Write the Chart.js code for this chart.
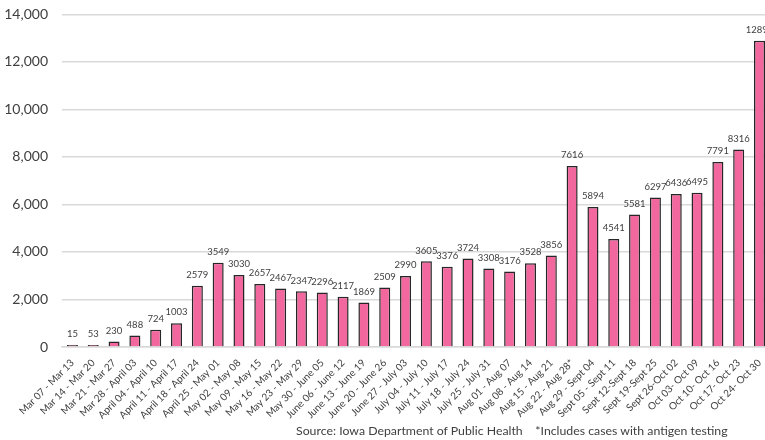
<!DOCTYPE html>
<html>
<head>
<meta charset="utf-8">
<script src="https://cdn.jsdelivr.net/npm/chart.js@4.4.1/dist/chart.umd.min.js"></script>
<style>
    html, body { margin: 0; padding: 0; background: #fff; overflow: hidden; }
    #wrap { position: relative; width: 770px; height: 440px; overflow: hidden; }
    #casesChart { position: absolute; left: 0; top: -8px; }
    #source {
        position: absolute; left: 296px; top: 423px;
        font-family: Lato, sans-serif; font-size: 12.3px; color: #404040;
        white-space: pre;
    }
</style>
</head>
<body>
<div id="wrap">
    <canvas id="casesChart" width="770" height="448"></canvas>
    <div id="source">Source: Iowa Department of Public Health    *Includes cases with antigen testing</div>
</div>
<script>
/* Weekly ranges */
const weeks = [
    "Mar 07 - Mar 13", "Mar 14 - Mar 20", "Mar 21 - Mar 27", "Mar 28 - April 03",
    "April 04 - April 10", "April 11 - April 17", "April 18 - April 24", "April 25 - May 01",
    "May 02 - May 08", "May 09 - May 15", "May 16 - May 22", "May 23 - May 29",
    "May 30 - June 05", "June 06 - June 12", "June 13 - June 19", "June 20 - June 26",
    "June 27 - July 03", "July 04 - July 10", "July 11 - July 17", "July 18 - July 24",
    "July 25 - July 31", "Aug 01 - Aug 07", "Aug 08 - Aug 14", "Aug 15 - Aug 21",
    "Aug 22 - Aug 28*", "Aug 29 - Sept 04", "Sept 05 - Sept 11", "Sept 12-Sept 18",
    "Sept 19-Sept 25", "Sept 26-Oct 02", "Oct 03- Oct 09", "Oct 10- Oct 16",
    "Oct 17- Oct 23", "Oct 24- Oct 30"
];

/* New cases per week */
const cases = [
    15, 53, 230, 488, 724, 1003, 2579, 3549, 3030, 2657, 2467, 2347,
    2296, 2117, 1869, 2509, 2990, 3605, 3376, 3724, 3308, 3176, 3528, 3856,
    7616, 5894, 4541, 5581, 6297, 6436, 6495, 7791, 8316, 12890
];

const yTicks = [0, 2000, 4000, 6000, 8000, 10000, 12000, 14000];

/* Value labels above bars */
const barLabels = {
    id: "barLabels",
    afterDatasetsDraw(chart) {
        const c = chart.ctx;
        const meta = chart.getDatasetMeta(0);
        c.save();
        c.font = "9.5px Lato, sans-serif";
        c.fillStyle = "#404040";
        c.textAlign = "center";
        c.textBaseline = "bottom";
        meta.data.forEach((bar, i) => {
            c.fillText(String(cases[i]), bar.x, bar.y - 6);
        });
        c.restore();
    }
};

const ctx = document.getElementById("casesChart");

new Chart(ctx, {
    type: "bar",
    data: {
        labels: weeks,
        datasets: [{
            data: cases,
            backgroundColor: "#F2679E",
            borderColor: "#262626",
            borderWidth: 1.5,
            minBarLength: 2,
            barPercentage: 0.53,
            categoryPercentage: 1
        }]
    },
    options: {
        responsive: false,
        animation: false,
        layout: { padding: { top: 6, left: 0, right: 0, bottom: 0 } },
        plugins: {
            legend: { display: false },
            tooltip: { enabled: false }
        },
        scales: {
            x: {
                grid: { display: false },
                border: { display: true, color: "#d9d9d9", width: 1.5 },
                ticks: {
                    autoSkip: false,
                    minRotation: 45,
                    maxRotation: 45,
                    padding: 2,
                    color: "#404040",
                    font: { family: "Lato", size: 10 }
                },
                afterFit: s => { s.height = 93; }
            },
            y: {
                min: 0,
                max: 14000,
                grid: { color: "#d9d9d9", lineWidth: 1.5, drawTicks: false },
                border: { display: false },
                afterBuildTicks: s => { s.ticks = yTicks.map(v => ({ value: v })); },
                ticks: {
                    padding: 14,
                    color: "#404040",
                    font: { family: "Lato", size: 14 },
                    callback: v => v.toLocaleString("en-US")
                },
                afterFit: s => { s.width = 62; }
            }
        }
    },
    plugins: [barLabels]
});
</script>
</body>
</html>
